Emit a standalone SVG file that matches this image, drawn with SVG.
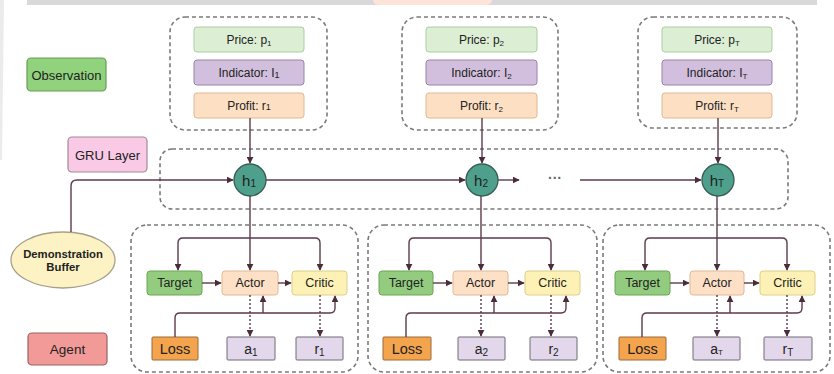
<svg xmlns="http://www.w3.org/2000/svg" width="834" height="374" viewBox="0 0 834 374">
<defs>
<marker id="ah" viewBox="0 0 10 10" refX="9" refY="5" markerWidth="7" markerHeight="7" markerUnits="userSpaceOnUse" orient="auto">
<path d="M0,0 L10,5 L0,10 z" fill="#4a2c3c"/>
</marker>
<style>
text{font-family:"Liberation Sans",Arial,sans-serif;fill:#222;text-anchor:middle;dominant-baseline:central}
.cont{fill:none;stroke:#7a7a7a;stroke-width:1.6;stroke-dasharray:4 3}
.price{fill:#dcefd5;stroke:#a9cf9f;stroke-width:1}
.ind{fill:#d2bfdd;stroke:#9a84aa;stroke-width:1}
.prof{fill:#fde0c4;stroke:#dfb892;stroke-width:1}
.lab{font-size:12px}
.ln{fill:none;stroke:#5c3a4c;stroke-width:1.4}
.dot{fill:none;stroke:#5c3a4c;stroke-width:1.4;stroke-dasharray:2 2}
.h{fill:#4e9f8c;stroke:#355c52;stroke-width:1.3}
.tgt{fill:#93cc7f;stroke:#6aa455}
.act{fill:#fde0c5;stroke:#e0b894}
.crt{fill:#fdf1b6;stroke:#dccf8a}
.loss{fill:#f5a44e;stroke:#9a6a3a}
.out{fill:#e3d8eb;stroke:#6f6a73}
.sm{font-size:12.5px}
</style>
</defs>
<rect width="834" height="374" fill="#ffffff"/>
<rect x="27" y="0" width="790" height="5" fill="#d9d9d9"/>
<rect x="373" y="-6" width="119" height="11" rx="5" fill="#fde3d8"/>
<polygon points="0,0 4,0 2,160 0,160" fill="#ebebeb"/>

<g id="legend-observation">
<rect x="27" y="58" width="79" height="33" rx="4" fill="#91d27c" stroke="#6a9a58" stroke-width="1.2"/>
<text x="66.5" y="75" style="font-size:13px">Observation</text>
</g>
<g id="legend-gru">
<rect x="68" y="137" width="79" height="35" rx="4" fill="#f9c9e6" stroke="#9f8a96" stroke-width="1.2"/>
<text x="107.5" y="155" style="font-size:13px">GRU Layer</text>
</g>
<g id="demonstration-buffer">
<ellipse cx="63" cy="260" rx="52" ry="28" fill="#fdf2c4" stroke="#a6a08a" stroke-width="1.3"/>
<text x="63" y="254" style="font-size:11.3px;font-weight:bold">Demonstration</text>
<text x="63" y="267" style="font-size:11.3px;font-weight:bold">Buffer</text>
</g>
<g id="legend-agent">
<rect x="28" y="333" width="79" height="32" rx="4" fill="#f29a98" stroke="#9a6262" stroke-width="1.2"/>
<text x="67.5" y="349" style="font-size:13.5px">Agent</text>
</g>

<g id="obs-1">
<rect class="cont" x="170" y="17" width="157" height="113" rx="15"/>
<rect class="price" x="194" y="27" width="110" height="25" rx="3"/>
<text class="lab" x="249" y="39.5">Price: p<tspan dy="3" font-size="8">1</tspan></text>
<rect class="ind" x="194" y="60" width="110" height="25" rx="3"/>
<text class="lab" x="249" y="72.5">Indicator: I<tspan dy="2" font-size="9">1</tspan></text>
<rect class="prof" x="194" y="93" width="110" height="25" rx="3"/>
<text class="lab" x="249" y="105.5">Profit: r<tspan dy="1" font-size="9">1</tspan></text>
</g>
<g id="obs-2">
<rect class="cont" x="402" y="17" width="156" height="113" rx="15"/>
<rect class="price" x="426" y="27" width="111" height="25" rx="3"/>
<text class="lab" x="481.5" y="39.5">Price: p<tspan dy="3" font-size="8">2</tspan></text>
<rect class="ind" x="426" y="60" width="111" height="25" rx="3"/>
<text class="lab" x="481.5" y="72.5">Indicator: I<tspan dy="3" font-size="8">2</tspan></text>
<rect class="prof" x="426" y="93" width="111" height="25" rx="3"/>
<text class="lab" x="481.5" y="105.5">Profit: r<tspan dy="3" font-size="8">2</tspan></text>
</g>
<g id="obs-T">
<rect class="cont" x="638" y="17" width="159" height="111" rx="15"/>
<rect class="price" x="662" y="27" width="110" height="25" rx="3"/>
<text class="lab" x="717" y="39.5">Price: p<tspan dy="3" font-size="8">T</tspan></text>
<rect class="ind" x="662" y="60" width="110" height="25" rx="3"/>
<text class="lab" x="717" y="72.5">Indicator: I<tspan dy="3" font-size="8">T</tspan></text>
<rect class="prof" x="662" y="93" width="110" height="25" rx="3"/>
<text class="lab" x="717" y="105.5">Profit: r<tspan dy="3" font-size="8">T</tspan></text>
</g>

<g id="gru-layer">
<rect class="cont" x="160" y="149" width="628" height="60" rx="12"/>
</g>

<g id="agent-1">
<rect class="cont" x="131" y="225" width="227" height="147" rx="16"/>
<rect class="tgt" x="147" y="271" width="55" height="24" rx="3"/>
<text class="sm" x="174.5" y="283">Target</text>
<rect class="act" x="222" y="271" width="56" height="24" rx="3"/>
<text class="sm" x="250" y="283">Actor</text>
<rect class="crt" x="292" y="271" width="55" height="24" rx="3"/>
<text class="sm" x="319.5" y="283">Critic</text>
<rect class="loss" x="152" y="337" width="46" height="23" rx="1"/>
<text x="175" y="348.5" style="font-size:14.5px">Loss</text>
<rect class="out" x="227" y="337" width="48" height="23" rx="1"/>
<text x="251" y="348.5" style="font-size:14px">a<tspan dy="3" font-size="10">1</tspan></text>
<rect class="out" x="296" y="337" width="47" height="23" rx="1"/>
<text x="319.5" y="348.5" style="font-size:14px">r<tspan dy="3" font-size="10">1</tspan></text>
</g>
<g id="agent-2">
<rect class="cont" x="368" y="225" width="229" height="147" rx="16"/>
<rect class="tgt" x="379" y="271" width="54" height="24" rx="3"/>
<text class="sm" x="406" y="283">Target</text>
<rect class="act" x="453" y="271" width="55" height="24" rx="3"/>
<text class="sm" x="480.5" y="283">Actor</text>
<rect class="crt" x="525" y="271" width="55" height="24" rx="3"/>
<text class="sm" x="552.5" y="283">Critic</text>
<rect class="loss" x="383" y="337" width="48" height="23" rx="1"/>
<text x="407" y="348.5" style="font-size:14.5px">Loss</text>
<rect class="out" x="458" y="337" width="47" height="23" rx="1"/>
<text x="481.5" y="348.5" style="font-size:14px">a<tspan dy="3" font-size="10">2</tspan></text>
<rect class="out" x="530" y="337" width="47" height="23" rx="1"/>
<text x="553.5" y="348.5" style="font-size:14px">r<tspan dy="3" font-size="10">2</tspan></text>
</g>
<g id="agent-T">
<rect class="cont" x="603" y="225" width="227" height="147" rx="16"/>
<rect class="tgt" x="615" y="271" width="55" height="24" rx="3"/>
<text class="sm" x="642.5" y="283">Target</text>
<rect class="act" x="690" y="271" width="54" height="24" rx="3"/>
<text class="sm" x="717" y="283">Actor</text>
<rect class="crt" x="760" y="271" width="55" height="24" rx="3"/>
<text class="sm" x="787.5" y="283">Critic</text>
<rect class="loss" x="619" y="337" width="47" height="23" rx="1"/>
<text x="642.5" y="348.5" style="font-size:14.5px">Loss</text>
<rect class="out" x="693" y="337" width="47" height="23" rx="1"/>
<text x="716.5" y="348.5" style="font-size:14px">a<tspan dy="3" font-size="8">T</tspan></text>
<rect class="out" x="764" y="337" width="48" height="23" rx="1"/>
<text x="788" y="348.5" style="font-size:14px">r<tspan dy="3" font-size="10">T</tspan></text>
</g>

<g id="connectors">
<path class="ln" d="M250,118 V163" marker-end="url(#ah)"/>
<path class="ln" d="M482,118 V163" marker-end="url(#ah)"/>
<path class="ln" d="M718,118 V163" marker-end="url(#ah)"/>
<path class="ln" d="M71,232 V186 Q71,180 77,180 H233" marker-end="url(#ah)"/>
<path class="ln" d="M266,180 H465" marker-end="url(#ah)"/>
<path class="ln" d="M498,180 H519" marker-end="url(#ah)"/>
<path class="ln" d="M580,180 H701" marker-end="url(#ah)"/>
<path class="ln" d="M250,196 V270" marker-end="url(#ah)"/>
<path class="ln" d="M250,238 H183 Q178,238 178,243 V270" marker-end="url(#ah)"/>
<path class="ln" d="M250,238 H315 Q320,238 320,243 V270" marker-end="url(#ah)"/>
<path class="ln" d="M202,283 H221" marker-end="url(#ah)"/>
<path class="ln" d="M278,283 H291" marker-end="url(#ah)"/>
<path class="dot" d="M250,295 V336" marker-end="url(#ah)"/>
<path class="dot" d="M320,295 V336" marker-end="url(#ah)"/>
<path class="ln" d="M175,337 V318 Q175,313 180,313 H330 Q335,313 335,308 V296" marker-end="url(#ah)"/>
<path class="ln" d="M263,313 V296" marker-end="url(#ah)"/>
<path class="ln" d="M481,196 V270" marker-end="url(#ah)"/>
<path class="ln" d="M481,238 H414 Q409,238 409,243 V270" marker-end="url(#ah)"/>
<path class="ln" d="M481,238 H546 Q551,238 551,243 V270" marker-end="url(#ah)"/>
<path class="ln" d="M433,283 H452" marker-end="url(#ah)"/>
<path class="ln" d="M508,283 H524" marker-end="url(#ah)"/>
<path class="dot" d="M481,295 V336" marker-end="url(#ah)"/>
<path class="dot" d="M551,295 V336" marker-end="url(#ah)"/>
<path class="ln" d="M406,337 V318 Q406,313 411,313 H561 Q566,313 566,308 V296" marker-end="url(#ah)"/>
<path class="ln" d="M494,313 V296" marker-end="url(#ah)"/>
<path class="ln" d="M717,196 V270" marker-end="url(#ah)"/>
<path class="ln" d="M717,238 H650 Q645,238 645,243 V270" marker-end="url(#ah)"/>
<path class="ln" d="M717,238 H782 Q787,238 787,243 V270" marker-end="url(#ah)"/>
<path class="ln" d="M670,283 H689" marker-end="url(#ah)"/>
<path class="ln" d="M744,283 H759" marker-end="url(#ah)"/>
<path class="dot" d="M717,295 V336" marker-end="url(#ah)"/>
<path class="dot" d="M787,295 V336" marker-end="url(#ah)"/>
<path class="ln" d="M642,337 V318 Q642,313 647,313 H797 Q802,313 802,308 V296" marker-end="url(#ah)"/>
<path class="ln" d="M730,313 V296" marker-end="url(#ah)"/>
</g>

<g id="gru-cells">
<g id="h1"><circle class="h" cx="250" cy="180" r="16"/><text x="249" y="180" style="font-size:15px">h<tspan dy="3" font-size="10">1</tspan></text></g>
<g id="h2"><circle class="h" cx="482" cy="180" r="16"/><text x="481" y="180" style="font-size:15px">h<tspan dy="3" font-size="10">2</tspan></text></g>
<g id="hT"><circle class="h" cx="718" cy="180" r="16"/><text x="717" y="180" style="font-size:15px">h<tspan dy="3" font-size="10">T</tspan></text></g>
<text x="555" y="178" style="font-size:14px;fill:#666;font-weight:bold">···</text>
</g>
</svg>
